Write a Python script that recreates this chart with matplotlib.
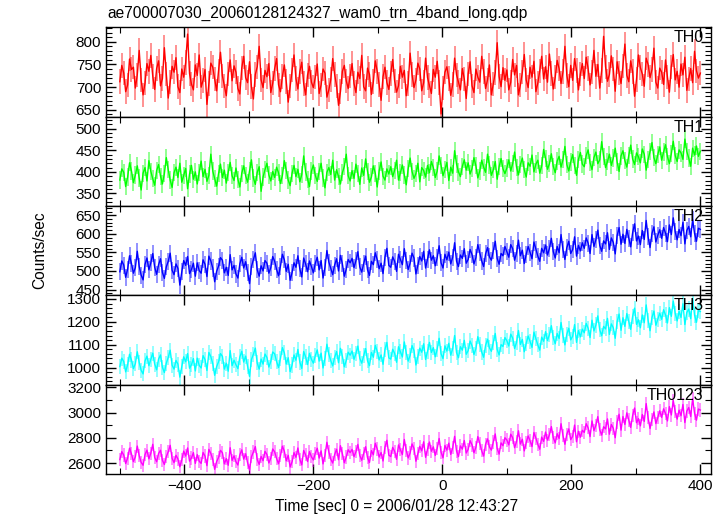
import numpy as np
import matplotlib
matplotlib.use("Agg")
import matplotlib.pyplot as plt
from matplotlib.ticker import MultipleLocator

plt.rcParams['font.family'] = ['Liberation Sans', 'DejaVu Sans']

title = "ae700007030_20060128124327_wam0_trn_4band_long.qdp"
xlabel = "Time [sec] 0 = 2006/01/28 12:43:27"
ylabel = "Counts/sec"
band_names = ["TH0", "TH1", "TH2", "TH3", "TH0123"]
band_colors = ["#ff0000", "#00ff00", "#0000ff", "#00ffff", "#ff00ff"]

time_sec = np.arange(-500, 401, 3)

th0 = [712, 748, 731, 690, 705, 762, 739, 744, 698, 727, 781, 716, 683, 709, 752, 735, 770, 724, 695, 741,
       758, 703, 719, 787, 729, 676, 711, 746, 733, 765, 701, 688, 740, 722, 754, 817, 730, 707, 694, 749,
       726, 771, 700, 715, 739, 662, 708, 753, 744, 718, 692, 736, 777, 725, 703, 681, 729, 760, 714, 747,
       733, 697, 685, 742, 768, 721, 710, 756, 701, 674, 728, 745, 790, 716, 699, 737, 723, 752, 688, 709,
       741, 763, 705, 690, 724, 749, 712, 667, 702, 738, 771, 719, 696, 734, 755, 708, 683, 727, 746, 711,
       699, 722, 751, 686, 705, 740, 731, 678, 694, 717, 763, 728, 703, 660, 690, 735, 748, 714, 697, 725,
       752, 708, 688, 733, 719, 770, 701, 692, 742, 728, 684, 712, 758, 735, 706, 671, 723, 744, 710, 695,
       730, 761, 714, 689, 703, 746, 722, 737, 681, 708, 775, 728, 699, 716, 753, 740, 692, 710, 764, 721,
       704, 686, 739, 722, 757, 710, 641, 698, 733, 745, 719, 682, 706, 764, 727, 711, 694, 741, 718, 675,
       729, 756, 703, 688, 740, 722, 711, 768, 735, 697, 716, 749, 683, 707, 732, 798, 724, 701, 743, 715,
       738, 694, 711, 761, 727, 748, 683, 705, 733, 772, 716, 699, 744, 722, 757, 690, 709, 736, 768, 718,
       745, 711, 773, 730, 696, 722, 759, 741, 708, 734, 790, 726, 701, 748, 715, 763, 737, 694, 729, 752,
       719, 766, 741, 705, 733, 781, 724, 750, 698, 737, 812, 745, 713, 728, 769, 740, 691, 756, 731, 708,
       747, 795, 726, 712, 758, 734, 680, 717, 771, 743, 729, 702, 764, 750, 721, 739, 786, 711, 698, 742,
       733, 706, 760, 722, 689, 745, 772, 716, 735, 700, 751, 727, 766, 693, 718, 741, 710, 779, 736, 720,
       731]

th1 = [381, 407, 399, 366, 388, 421, 402, 375, 393, 414, 386, 358, 397, 410, 379, 426, 401, 384, 369, 403,
       417, 390, 372, 396, 433, 405, 381, 364, 398, 411, 387, 420, 376, 392, 408, 361, 395, 415, 383, 400,
       372, 398, 425, 389, 406, 378, 392, 441, 402, 385, 367, 396, 418, 387, 404, 374, 399, 422, 391, 380,
       409, 383, 365, 397, 414, 391, 376, 402, 428, 386, 371, 399, 412, 355, 388, 405, 420, 393, 379, 401,
       387, 411, 398, 373, 392, 426, 404, 381, 368, 397, 415, 389, 406, 377, 394, 437, 400, 383, 366, 402,
       416, 392, 378, 401, 420, 386, 363, 399, 410, 394, 427, 381, 405, 389, 372, 398, 413, 441, 391, 379,
       403, 385, 418, 396, 371, 409, 392, 430, 401, 376, 388, 414, 397, 365, 402, 423, 390, 381, 407, 395,
       412, 389, 404, 427, 381, 398, 416, 393, 370, 407, 432, 401, 385, 396, 420, 377, 410, 403, 388, 415,
       398, 424, 410, 387, 402, 437, 415, 391, 406, 422, 380, 411, 397, 449, 418, 400, 389, 413, 428, 404,
       421, 395, 408, 433, 414, 386, 402, 427, 411, 399, 441, 416, 392, 405, 424, 383, 412, 431, 407, 396,
       409, 428, 402, 419, 446, 411, 393, 417, 432, 405, 388, 421, 413, 439, 400, 418, 427, 397, 414, 452,
       431, 406, 419, 442, 413, 398, 425, 436, 411, 428, 459, 417, 402, 423, 440, 414, 392, 429, 445, 418,
       412, 438, 451, 421, 405, 433, 446, 419, 428, 470, 436, 410, 424, 441, 415, 432, 455, 423, 401, 437,
       449, 426, 411, 438, 462, 430, 417, 444, 435, 421, 453, 441, 404, 429, 447, 468, 433, 419, 440, 458,
       427, 446, 463, 435, 419, 442, 471, 438, 424, 451, 444, 429, 476, 447, 432, 413, 455, 439, 460, 436,
       448]

th2 = [498, 527, 516, 483, 505, 541, 520, 494, 509, 553, 512, 489, 476, 518, 535, 503, 522, 547, 510, 491,
       517, 533, 496, 480, 511, 526, 548, 502, 490, 519, 507, 462, 498, 528, 515, 539, 493, 504, 521, 486,
       522, 501, 494, 530, 518, 485, 540, 527, 508, 471, 499, 513, 536, 529, 495, 510, 488, 544, 503, 515,
       492, 481, 519, 537, 508, 525, 497, 466, 512, 530, 549, 503, 486, 514, 500, 528, 521, 494, 509, 539,
       526, 504, 487, 513, 545, 530, 499, 518, 475, 496, 522, 510, 541, 506, 484, 535, 519, 498, 527, 512,
       495, 521, 537, 503, 528, 481, 510, 555, 524, 507, 490, 516, 533, 500, 542, 519, 486, 505, 531, 522,
       534, 509, 528, 552, 511, 497, 520, 540, 503, 488, 526, 517, 549, 530, 506, 521, 493, 537, 561, 515,
       510, 538, 526, 499, 545, 531, 517, 560, 529, 504, 521, 548, 535, 492, 516, 539, 527, 553, 508, 532,
       557, 529, 541, 514, 536, 568, 522, 508, 545, 530, 551, 519, 537, 576, 526, 512, 543, 534, 560, 521,
       531, 558, 544, 519, 536, 571, 549, 527, 512, 546, 563, 538, 529, 555, 580, 534, 518, 547, 541, 566,
       552, 537, 571, 560, 529, 548, 583, 541, 556, 520, 545, 566, 550, 533, 578, 559, 540, 526, 561, 549,
       570, 543, 561, 588, 552, 535, 566, 549, 598, 557, 531, 563, 580, 547, 558, 592, 540, 569, 554, 576,
       561, 589, 575, 547, 598, 566, 584, 610, 569, 553, 581, 573, 603, 558, 589, 577, 546, 595, 617, 572,
       599, 574, 612, 588, 565, 603, 627, 581, 594, 571, 609, 585, 636, 592, 563, 601, 619, 578, 596, 611,
       588, 617, 602, 579, 624, 598, 643, 606, 584, 612, 595, 631, 573, 609, 620, 592, 638, 601, 580, 615,
       612]

th3 = [1004, 1041, 1026, 981, 1012, 1058, 1033, 995, 1017, 1069, 1022, 988, 972, 1029, 1050, 1008, 1036, 1063, 1015, 990,
       1037, 1055, 1001, 978, 1019, 1044, 1076, 1010, 993, 1031, 1015, 958, 1004, 1047, 1025, 1061, 997, 1012, 1039, 985,
       1041, 1009, 998, 1052, 1035, 987, 1066, 1048, 1017, 966, 1004, 1025, 1061, 1049, 993, 1019, 984, 1074, 1008, 1032,
       1012, 995, 1046, 1071, 1024, 1050, 1006, 961, 1035, 1058, 1085, 1020, 993, 1037, 1015, 1059, 1044, 1002, 1027, 1068,
       1060, 1026, 1000, 1040, 1087, 1064, 1015, 1043, 982, 1011, 1055, 1032, 1079, 1024, 996, 1070, 1046, 1013, 1062, 1036,
       1019, 1052, 1077, 1028, 1063, 998, 1041, 1102, 1058, 1030, 1007, 1045, 1070, 1021, 1084, 1049, 1003, 1031, 1067, 1054,
       1072, 1036, 1061, 1094, 1040, 1019, 1051, 1083, 1029, 1008, 1066, 1045, 1097, 1070, 1033, 1055, 1014, 1079, 1110, 1042,
       1037, 1080, 1062, 1023, 1091, 1069, 1046, 1112, 1064, 1028, 1053, 1096, 1074, 1011, 1048, 1085, 1067, 1104, 1035, 1071,
       1110, 1066, 1087, 1047, 1081, 1128, 1060, 1039, 1095, 1072, 1106, 1054, 1083, 1140, 1065, 1043, 1091, 1076, 1119, 1058,
       1074, 1116, 1095, 1057, 1083, 1135, 1102, 1068, 1045, 1097, 1124, 1086, 1071, 1111, 1149, 1079, 1055, 1100, 1092, 1131,
       1117, 1094, 1146, 1129, 1083, 1110, 1162, 1101, 1123, 1069, 1106, 1138, 1114, 1088, 1155, 1126, 1099, 1076, 1133, 1115,
       1157, 1118, 1144, 1183, 1130, 1104, 1149, 1127, 1197, 1139, 1099, 1146, 1172, 1121, 1137, 1188, 1110, 1162, 1134, 1168,
       1152, 1193, 1172, 1131, 1207, 1160, 1186, 1226, 1165, 1139, 1180, 1169, 1215, 1145, 1191, 1174, 1128, 1201, 1234, 1163,
       1218, 1180, 1236, 1201, 1167, 1224, 1260, 1189, 1209, 1174, 1230, 1196, 1274, 1207, 1161, 1219, 1247, 1185, 1212, 1238,
       1211, 1253, 1230, 1195, 1262, 1224, 1291, 1238, 1204, 1246, 1219, 1279, 1188, 1241, 1256, 1214, 1302, 1229, 1198, 1250,
       1245]

th0123 = [2628, 2691, 2664, 2597, 2640, 2718, 2673, 2612, 2650, 2735, 2659, 2606, 2583, 2668, 2703, 2634, 2679, 2749, 2645, 2611,
          2676, 2702, 2622, 2589, 2651, 2690, 2741, 2637, 2604, 2662, 2633, 2571, 2627, 2695, 2656, 2720, 2616, 2641, 2683, 2598,
          2667, 2615, 2598, 2684, 2656, 2580, 2709, 2677, 2630, 2551, 2612, 2645, 2701, 2682, 2594, 2636, 2583, 2722, 2621, 2658,
          2611, 2585, 2666, 2705, 2632, 2674, 2604, 2545, 2650, 2688, 2731, 2627, 2590, 2653, 2619, 2693, 2668, 2601, 2640, 2712,
          2689, 2636, 2595, 2659, 2734, 2694, 2618, 2662, 2569, 2611, 2683, 2646, 2720, 2631, 2586, 2700, 2665, 2613, 2691, 2650,
          2625, 2679, 2718, 2640, 2697, 2594, 2662, 2765, 2688, 2631, 2601, 2668, 2710, 2627, 2738, 2674, 2603, 2649, 2706, 2683,
          2709, 2651, 2690, 2748, 2660, 2623, 2677, 2730, 2642, 2605, 2699, 2666, 2757, 2712, 2648, 2684, 2617, 2726, 2781, 2663,
          2652, 2725, 2693, 2630, 2744, 2706, 2668, 2787, 2701, 2641, 2680, 2752, 2716, 2615, 2675, 2733, 2697, 2769, 2646, 2711,
          2767, 2694, 2729, 2661, 2718, 2795, 2687, 2642, 2740, 2703, 2758, 2669, 2721, 2812, 2695, 2652, 2736, 2711, 2779, 2680,
          2709, 2778, 2744, 2682, 2725, 2810, 2756, 2697, 2656, 2749, 2792, 2728, 2703, 2767, 2831, 2716, 2671, 2760, 2738, 2801,
          2783, 2744, 2829, 2801, 2722, 2770, 2856, 2751, 2789, 2697, 2762, 2815, 2776, 2731, 2842, 2798, 2749, 2710, 2806, 2772,
          2846, 2782, 2825, 2889, 2801, 2760, 2833, 2795, 2912, 2818, 2749, 2829, 2871, 2786, 2812, 2901, 2769, 2852, 2805, 2860,
          2843, 2912, 2879, 2810, 2934, 2857, 2899, 2968, 2864, 2822, 2888, 2871, 2950, 2829, 2906, 2876, 2801, 2925, 2987, 2861,
          2969, 2906, 2998, 2941, 2883, 2977, 3036, 2920, 2952, 2895, 2985, 2930, 3071, 2958, 2874, 2947, 3005, 2913, 2961, 3014,
          2962, 3030, 2993, 2934, 3047, 2981, 3095, 3006, 2948, 3019, 2975, 3064, 2921, 3012, 3040, 2969, 3110, 2995, 2940, 3028,
          3020]

band_values = [th0, th1, th2, th3, th0123]
band_errors = [27, 20, 23, 33, 52]

# layout / style
ylims = [(635, 832), (321, 528), (434.5, 675), (925, 1316), (2514, 3221)]
ymajor = [50, 50, 50, 100, 200]
yminor = [10, 10, 10, 20, 100]

W, H = 724, 516
fig = plt.figure(figsize=(W / 100, H / 100), dpi=100)
left, right = 106 / W, 711 / W
top_px, bot_px = 27.3, 474.0
ph = (bot_px - top_px) / 5

for i in range(5):
    y0 = 1 - (top_px + (i + 1) * ph) / H
    ax = fig.add_axes([left, y0, right - left, ph / H])
    c = band_colors[i]
    ax.errorbar(time_sec, band_values[i], yerr=band_errors[i], fmt='-', color=c,
                lw=1.0, ecolor=c, elinewidth=1.2, capsize=0)
    for coll in ax.collections:
        coll.set_alpha(0.5)
    ax.set_xlim(-521.5, 416.5)
    ax.set_ylim(*ylims[i])
    ax.yaxis.set_major_locator(MultipleLocator(ymajor[i]))
    ax.yaxis.set_minor_locator(MultipleLocator(yminor[i]))
    ax.xaxis.set_major_locator(MultipleLocator(200))
    ax.xaxis.set_minor_locator(MultipleLocator(100))
    ax.tick_params(which='both', direction='in', top=True, right=True, labelsize=11, colors='black')
    ax.tick_params(which='major', length=7, width=1)
    ax.tick_params(which='minor', length=4, width=0.8)
    for s in ax.spines.values():
        s.set_linewidth(1.0)
    if i < 4:
        ax.tick_params(labelbottom=False)
    ax.text(0.988, 0.965, band_names[i], transform=ax.transAxes, ha='right', va='top', fontsize=11.5)

fig.text(left + 0.002, 1 - 6 / H, title, ha='left', va='top', fontsize=11.2)
fig.text(40 / W, 1 - 250 / H, ylabel, rotation=90, ha='center', va='center', fontsize=11.2)
fig.text(397 / W, 1 - 507 / H, xlabel, ha='center', va='center', fontsize=11.2)

fig.savefig("out.png", dpi=100)
